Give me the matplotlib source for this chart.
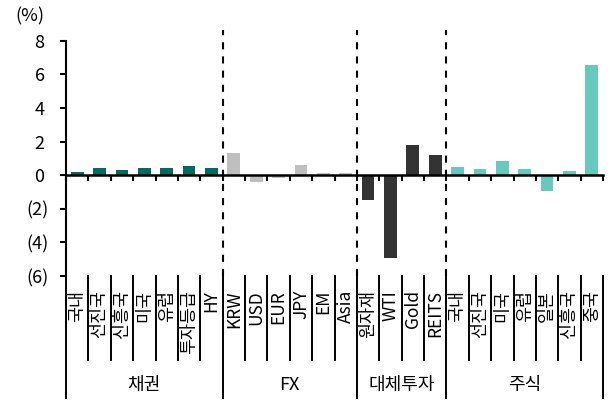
import numpy as np
import matplotlib
matplotlib.use("Agg")
import matplotlib.pyplot as plt
import matplotlib.transforms as mtransforms
from matplotlib.ticker import FixedLocator, FuncFormatter

plt.rcParams['font.family'] = ['Noto Sans CJK KR', 'DejaVu Sans']

# asset-class returns (%)
bond_labels = ['국내', '선진국', '신흥국', '미국', '유럽', '투자등급', 'HY']
bond_vals = [0.18, 0.40, 0.30, 0.40, 0.40, 0.53, 0.40]
fx_labels = ['KRW', 'USD', 'EUR', 'JPY', 'EM', 'Asia']
fx_vals = [1.30, -0.40, -0.15, 0.60, 0.15, 0.15]
alt_labels = ['원자재', 'WTI', 'Gold', 'REITS']
alt_vals = [-1.45, -4.90, 1.80, 1.20]
eq_labels = ['국내', '선진국', '미국', '유럽', '일본', '신흥국', '중국']
eq_vals = [0.50, 0.38, 0.85, 0.38, -0.93, 0.25, 6.55]
group_names = ['채권', 'FX', '대체투자', '주식']

groups = [
    (bond_labels, bond_vals, '#006B5E'),
    (fx_labels, fx_vals, '#BFBFBF'),
    (alt_labels, alt_vals, '#333333'),
    (eq_labels, eq_vals, '#66C9BB'),
]

fig = plt.figure(figsize=(6.12, 4.07), dpi=100)
ax = fig.add_axes([66 / 612, 1 - 276 / 407, (603 - 66) / 612, (276 - 40.7) / 407])

labels, colors, vals, bounds = [], [], [], [-0.5]
for lab, v, c in groups:
    labels += lab
    vals += v
    colors += [c] * len(lab)
    bounds.append(bounds[-1] + len(lab))
x = np.arange(len(labels))

ax.bar(x, vals, width=0.57, color=colors, zorder=1)

ax.set_xlim(-0.5, len(labels) - 0.5)
ax.set_ylim(-6, 8)

# axes styling: y axis on the left, category axis through zero
for s in ['top', 'right']:
    ax.spines[s].set_visible(False)
ax.spines['left'].set_linewidth(1.5)
ax.spines['bottom'].set_position(('data', 0))
ax.spines['bottom'].set_linewidth(1.8)
ax.xaxis.set_major_locator(FixedLocator(np.arange(-0.5, len(labels), 1.0)))
ax.xaxis.set_major_formatter(FuncFormatter(lambda v, p: ''))
ax.tick_params(axis='x', direction='out', length=4, width=1.5)
ax.set_yticks(np.arange(-6, 9, 2))
ax.yaxis.set_major_formatter(FuncFormatter(
    lambda v, p: f'({abs(v):.0f})' if v < 0 else f'{v:.0f} '))
ax.tick_params(axis='y', direction='out', length=4.3, width=1.5, pad=8,
               labelsize=13, colors='black')

# dashed separators between asset classes
for b in bounds[1:-1]:
    ax.axvline(b, ymin=0, ymax=1.045, color='black', lw=1.5,
               linestyle=(0, (3.4, 3.4)), clip_on=False, zorder=3)

# multi-level category labels below the plot
trans = mtransforms.blended_transform_factory(ax.transData, ax.transAxes)
for i, lab in enumerate(labels):
    ax.text(i, -0.06, lab, rotation=90, ha='center', va='top',
            fontsize=12.5, transform=trans)
for b in np.arange(-0.5, len(labels), 1.0):
    bottom = -0.518 if b in bounds else -0.357
    ax.plot([b, b], [0, bottom], color='black', lw=1.4,
            transform=trans, clip_on=False)
for name, lo, hi in zip(group_names, bounds[:-1], bounds[1:]):
    ax.text((lo + hi) / 2, -0.463, name, ha='center', va='center',
            fontsize=13, transform=trans)

fig.text(30 / 612, 1 - 16 / 407, '(%)', ha='center', va='center', fontsize=13)

fig.savefig('out.png', dpi=100)
